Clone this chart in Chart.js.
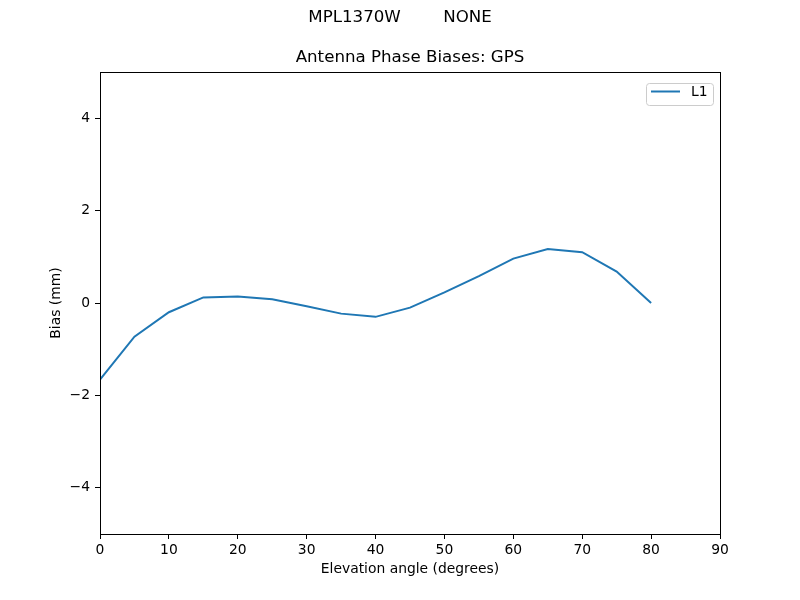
<!DOCTYPE html>
<html>
<head>
<meta charset="utf-8">
<script src="https://cdn.jsdelivr.net/npm/chart.js@4"></script>
<style>
  html, body { margin: 0; padding: 0; background: #fff; }
  #wrap { width: 800px; height: 600px; }
</style>
</head>
<body>
<div id="wrap"><canvas id="chart" width="800" height="600"></canvas></div>
<script>
// Elevation angles (degrees) and L1 bias (mm)
const elevations = [0, 5, 10, 15, 20, 25, 30, 35, 40, 45, 50, 55, 60, 65, 70, 75, 80];
const l1Bias = [-1.66, -0.73, -0.20, 0.12, 0.14, 0.08, -0.07, -0.23, -0.30, -0.10, 0.23, 0.58, 0.96, 1.17, 1.10, 0.68, 0.0];
const yTicks = [-4, -2, 0, 2, 4];
const xTicks = [0, 10, 20, 30, 40, 50, 60, 70, 80, 90];

const FONT = "'DejaVu Sans', sans-serif";
const minus = v => String(v).replace("-", "\u2212");

// Frame, titles and the inside legend, drawn like matplotlib does
const decorations = {
  id: "decorations",
  afterDraw(chart) {
    const { ctx, chartArea: a } = chart;
    ctx.save();
    ctx.strokeStyle = "#000";
    ctx.lineWidth = 1;
    ctx.strokeRect(Math.round(a.left) + 0.5, Math.round(a.top) + 0.5,
      Math.round(a.right - a.left), Math.round(a.bottom - a.top));

    ctx.fillStyle = "#000";
    ctx.textAlign = "center";
    ctx.textBaseline = "middle";
    ctx.font = "16.67px " + FONT;
    ctx.fillText("MPL1370W        NONE", 400, 18);
    ctx.fillText("Antenna Phase Biases: GPS", (a.left + a.right) / 2, 58);

    // legend box
    const bx = a.right - 74, by = a.top + 11, bw = 67, bh = 22;
    ctx.beginPath();
    ctx.roundRect(bx + 0.5, by + 0.5, bw, bh, 3);
    ctx.fillStyle = "rgba(255,255,255,0.8)";
    ctx.fill();
    ctx.strokeStyle = "#cccccc";
    ctx.stroke();
    ctx.beginPath();
    ctx.moveTo(bx + 5, by + 8.5);
    ctx.lineTo(bx + 34, by + 8.5);
    ctx.strokeStyle = "#1f77b4";
    ctx.lineWidth = 2;
    ctx.stroke();
    ctx.fillStyle = "#000";
    ctx.textAlign = "left";
    ctx.font = "13.89px " + FONT;
    ctx.fillText("L1", bx + 45, by + 9);
    ctx.restore();
  }
};

new Chart(document.getElementById("chart"), {
  type: "line",
  data: {
    datasets: [{
      label: "L1",
      data: elevations.map((e, i) => ({ x: e, y: l1Bias[i] })),
      borderColor: "#1f77b4",
      borderWidth: 2,
      pointRadius: 0,
      tension: 0,
      fill: false
    }]
  },
  options: {
    responsive: false,
    animation: false,
    layout: { padding: { left: 0, right: 80, top: 72, bottom: 0 } },
    plugins: {
      legend: { display: false },
      title: { display: false },
      tooltip: { enabled: false }
    },
    scales: {
      x: {
        type: "linear",
        min: 0,
        max: 90,
        afterFit: s => { s.height = 66; },
        afterBuildTicks: s => { s.ticks = xTicks.map(v => ({ value: v })); },
        grid: { display: true, drawOnChartArea: false, tickLength: 5, tickColor: "#000" },
        border: { display: false },
        ticks: { color: "#000", padding: 3, maxRotation: 0, font: { family: FONT, size: 13.89 }, callback: v => minus(v) },
        title: { display: true, text: "Elevation angle (degrees)", color: "#000", padding: { top: 0, bottom: 22 }, font: { family: FONT, size: 13.89 } }
      },
      y: {
        min: -5,
        max: 5,
        afterFit: s => { s.width = 100; },
        afterBuildTicks: s => { s.ticks = yTicks.map(v => ({ value: v })); },
        grid: { display: true, drawOnChartArea: false, tickLength: 5, tickColor: "#000" },
        border: { display: false },
        ticks: { color: "#000", padding: 5, font: { family: FONT, size: 13.89 }, callback: v => minus(v) },
        title: { display: true, text: "Bias (mm)", color: "#000", padding: { top: 48, bottom: 0 }, font: { family: FONT, size: 13.89 } }
      }
    }
  },
  plugins: [decorations]
});
</script>
</body>
</html>
